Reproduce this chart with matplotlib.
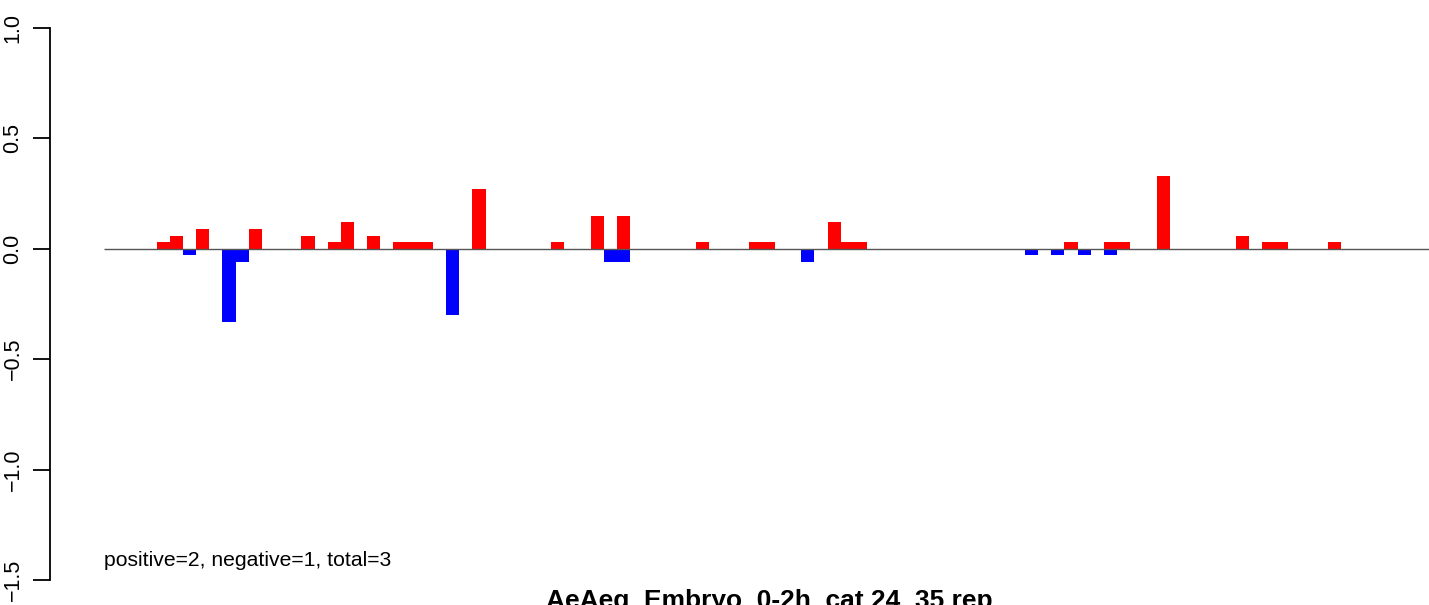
import matplotlib
matplotlib.use('Agg')
import matplotlib.pyplot as plt

plt.rcParams['font.family'] = ['Liberation Sans', 'DejaVu Sans']

# bar slots (0 = first slot at left end of the zero line) and values
pos_slots = [4, 5, 7, 11, 15, 17, 18, 20, 22, 23, 24, 28, 34, 37, 39, 45, 49, 50,
             55, 56, 57, 73, 76, 77, 80, 86, 88, 89, 93]
pos_vals = [0.03, 0.06, 0.09, 0.09, 0.06, 0.03, 0.12, 0.06, 0.03, 0.03, 0.03, 0.27,
            0.03, 0.15, 0.15, 0.03, 0.03, 0.03, 0.12, 0.03, 0.03, 0.03, 0.03, 0.03,
            0.33, 0.06, 0.03, 0.03, 0.03]
neg_slots = [6, 9, 10, 26, 38, 39, 53, 70, 72, 74, 76]
neg_vals = [-0.03, -0.33, -0.06, -0.30, -0.06, -0.06, -0.06, -0.03, -0.03, -0.03, -0.03]

yticks = [-1.5, -1.0, -0.5, 0.0, 0.5, 1.0]
title = 'AeAeg_Embryo_0-2h_cat 24_35 rep'
note = 'positive=2, negative=1, total=3'

W, H = 1429, 605
fig = plt.figure(figsize=(W / 100, H / 100), dpi=100)

# plot region: left axis at x=50px, extends past the right edge (cropped like the original)
left_px, right_px, top_px, bot_px = 50, 1488, 28, 580
slot_w = 13.157
line_x0 = 104
ax = fig.add_axes([left_px / W, (H - bot_px) / H, (right_px - left_px) / W, (bot_px - top_px) / H])

ax.bar(pos_slots, pos_vals, width=1, align='edge', color='#ff0000', linewidth=0)
ax.bar(neg_slots, neg_vals, width=1, align='edge', color='#0000ff', linewidth=0)

xmin = -(line_x0 - left_px) / slot_w
xmax = (right_px - line_x0) / slot_w
ax.hlines(0, 0, xmax, color='#555555', lw=1.0, zorder=3)
ax.set_xlim(xmin, xmax)
ax.set_ylim(-1.5, 1.0)

for s in ['top', 'right', 'bottom']:
    ax.spines[s].set_visible(False)
ax.spines['left'].set_linewidth(1.3)
ax.set_xticks([])
ax.set_yticks(yticks)
ax.set_yticklabels(['\u22121.5', '\u22121.0', '\u22120.5', '0.0', '0.5', '1.0'],
                   rotation=90, va='center', fontsize=15.5)
ax.tick_params(axis='y', length=12, width=1.3, pad=7)

fig.text(104 / W, 1 - 560 / H, note, fontsize=15.2, ha='left', va='center')
fig.text(769 / W, 1 - 589 / H, title, fontsize=19, fontweight='bold', ha='center', va='top')

fig.savefig('out.png', dpi=100)
